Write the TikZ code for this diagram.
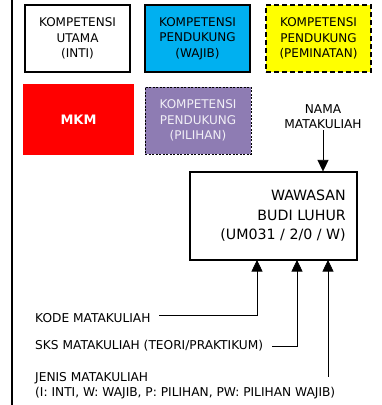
\documentclass[tikz,border=0pt]{standalone}
\usepackage{fontspec}
\setmainfont{DejaVu Sans}
\usetikzlibrary{arrows.meta}
\definecolor{biru}{RGB}{0,176,240}
\definecolor{kuning}{RGB}{255,255,0}
\definecolor{merah}{RGB}{255,0,0}
\definecolor{ungu}{RGB}{142,124,179}
\begin{document}
\begin{tikzpicture}[x=1pt, y=-1pt, >={Triangle[width=11pt,length=11.5pt]},
	kotak/.style={minimum width=105pt, minimum height=67pt, align=center, inner sep=0pt, font=\fontsize{12}{15.3}\selectfont},
	teks/.style={align=left, inner sep=3pt, font=\fontsize{12.2}{15}\selectfont}]
	\useasboundingbox (0,0) rectangle (381,405);
	%garis kiri
	\draw [line width=1.5pt] (12,0) to (12,405);
	%baris atas
	\node [kotak, draw, line width=1.3pt] (inti) at (77.5,38.5) {KOMPETENSI\\UTAMA\\(INTI)};
	\node [kotak, draw, line width=1.3pt, fill=biru] (wajib) at (197.5,38.5) {KOMPETENSI\\PENDUKUNG\\(WAJIB)};
	\node [kotak, draw, line width=1.3pt, fill=kuning, dash pattern=on 5pt off 3pt] (minat) at (318.5,38.5) {KOMPETENSI\\PENDUKUNG\\(PEMINATAN)};
	%baris kedua
	\node [kotak, fill=merah, minimum width=111pt, minimum height=71pt, text=white, font=\fontsize{13}{15}\selectfont\bfseries] (mkm) at (78.5,119.5) {MKM};
	\node [kotak, draw, line width=1pt, fill=ungu, text=white!88!ungu, dash pattern=on 2pt off 1.5pt, minimum width=106pt] (pilih) at (198,120.5) {KOMPETENSI\\PENDUKUNG\\(PILIHAN)};
	%contoh matakuliah
	\node [teks, align=center, inner sep=1pt] (nama) at (323,117) {NAMA\\MATAKULIAH};
	\node [draw, line width=1.1pt, minimum width=167pt, minimum height=88pt] (mk) at (273.5,216) {};
	\node [teks, align=right, anchor=east, font=\fontsize{14.2}{19.5}\selectfont] (judul) at (349,216) {WAWASAN\\BUDI LUHUR\\(UM031 / 2/0 / W)};
	\draw [line width=0.6pt, ->] (nama.south) to (nama.south |- mk.north);
	%keterangan bawah
	\node [teks, anchor=west] (kode) at (32,318) {KODE MATAKULIAH};
	\node [teks, anchor=west] (sks) at (32,346) {SKS MATAKULIAH (TEORI/PRAKTIKUM)};
	\node [teks, anchor=north west] (jenis) at (32,369) {JENIS MATAKULIAH\\(I: INTI, W: WAJIB, P: PILIHAN, PW: PILIHAN WAJIB)};
	\coordinate (k1) at (257,260);
	\coordinate (k2) at (297,260);
	\coordinate (k3) at (328,260);
	\coordinate (j1) at (328,377);
	\draw [line width=0.6pt, <-] (k1) |- ([xshift=5pt, yshift=3pt]kode.east);
	\draw [line width=0.6pt, <-] (k2) |- ([xshift=6pt]sks.east);
	\draw [line width=0.6pt, <-] (k3) to (j1);
\end{tikzpicture}
\end{document}
